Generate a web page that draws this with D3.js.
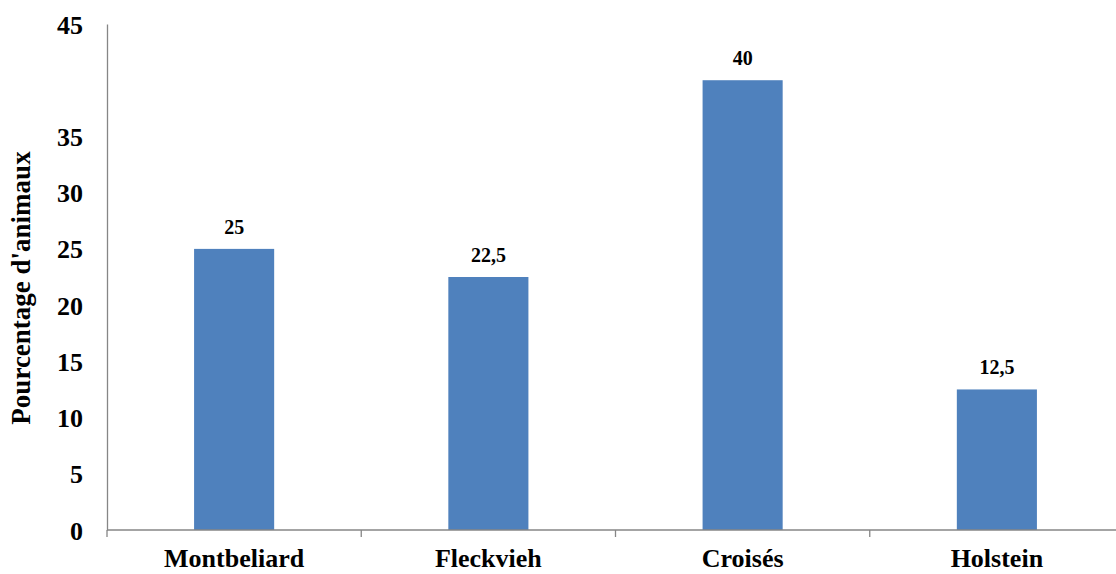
<!DOCTYPE html>
<html>
<head>
<meta charset="utf-8">
<script src="https://cdn.jsdelivr.net/npm/d3@7"></script>
<style>
  html, body { margin: 0; padding: 0; background: #fff; }
  svg { display: block; }
  text { font-family: "Liberation Serif", "Times New Roman", serif; font-weight: bold; fill: #000; }
</style>
</head>
<body>
<svg id="chart" width="1116" height="574"></svg>
<script>
// Breeds and share of animals (%)
const categories = ["Montbeliard", "Fleckvieh", "Croisés", "Holstein"];
const values = [25, 22.5, 40, 12.5];
const valueLabels = ["25", "22,5", "40", "12,5"];
const yTicks = [0, 5, 10, 15, 20, 25, 30, 35, 45];
const yTitle = "Pourcentage d'animaux";

(function () {
  const svg = d3.select("#chart");
  const plotLeft = 107, plotRight = 1124, plotTop = 24, plotBottom = 530;

  const x = d3.scaleBand()
    .domain(categories)
    .range([plotLeft, plotRight])
    .paddingInner(0.685)
    .paddingOuter(0.3425);

  const y = d3.scaleLinear().domain([0, 45]).range([plotBottom, plotTop]);

  const axisColor = "#868686";

  // Bars
  svg.selectAll("rect.bar")
    .data(values)
    .join("rect")
    .attr("class", "bar")
    .attr("x", (d, i) => x(categories[i]))
    .attr("width", x.bandwidth())
    .attr("y", d => y(d))
    .attr("height", d => y(0) - y(d))
    .attr("fill", "#4F81BD");

  // Value labels above bars
  svg.selectAll("text.val")
    .data(values)
    .join("text")
    .attr("class", "val")
    .attr("x", (d, i) => x(categories[i]) + x.bandwidth() / 2)
    .attr("y", d => y(d) - 15)
    .attr("text-anchor", "middle")
    .attr("font-size", 20)
    .text((d, i) => valueLabels[i]);

  // Y axis: line and labels, no tick marks
  const yAxis = d3.axisLeft(y).tickValues(yTicks).tickSize(0).tickPadding(24);
  const gy = svg.append("g").attr("transform", `translate(${plotLeft},0)`).call(yAxis);
  gy.select(".domain").attr("stroke", axisColor).attr("stroke-width", 1.3);
  gy.selectAll(".tick text")
    .attr("font-family", "Liberation Serif, Times New Roman, serif")
    .attr("font-weight", "bold")
    .attr("font-size", 26)
    .attr("dy", "0.35em");

  // X axis: baseline with marks at category boundaries
  const step = x.step();
  const x0 = x(categories[0]) - x.paddingOuter() * step;
  const bounds = d3.range(categories.length + 1).map(i => x0 + i * step);
  svg.append("line")
    .attr("x1", plotLeft).attr("x2", 1116)
    .attr("y1", plotBottom).attr("y2", plotBottom)
    .attr("stroke", axisColor).attr("stroke-width", 1.3);
  svg.selectAll("line.xtick")
    .data(bounds.filter(b => b <= 1116))
    .join("line")
    .attr("class", "xtick")
    .attr("x1", d => d).attr("x2", d => d)
    .attr("y1", plotBottom).attr("y2", plotBottom + 7)
    .attr("stroke", axisColor).attr("stroke-width", 1.3);

  svg.selectAll("text.cat")
    .data(categories)
    .join("text")
    .attr("class", "cat")
    .attr("x", d => x(d) + x.bandwidth() / 2)
    .attr("y", 567)
    .attr("text-anchor", "middle")
    .attr("font-size", 26)
    .text(d => d);

  // Y axis title
  svg.append("text")
    .attr("transform", "translate(30,288) rotate(-90)")
    .attr("text-anchor", "middle")
    .attr("font-size", 27)
    .text(yTitle);
})();
</script>
</body>
</html>
